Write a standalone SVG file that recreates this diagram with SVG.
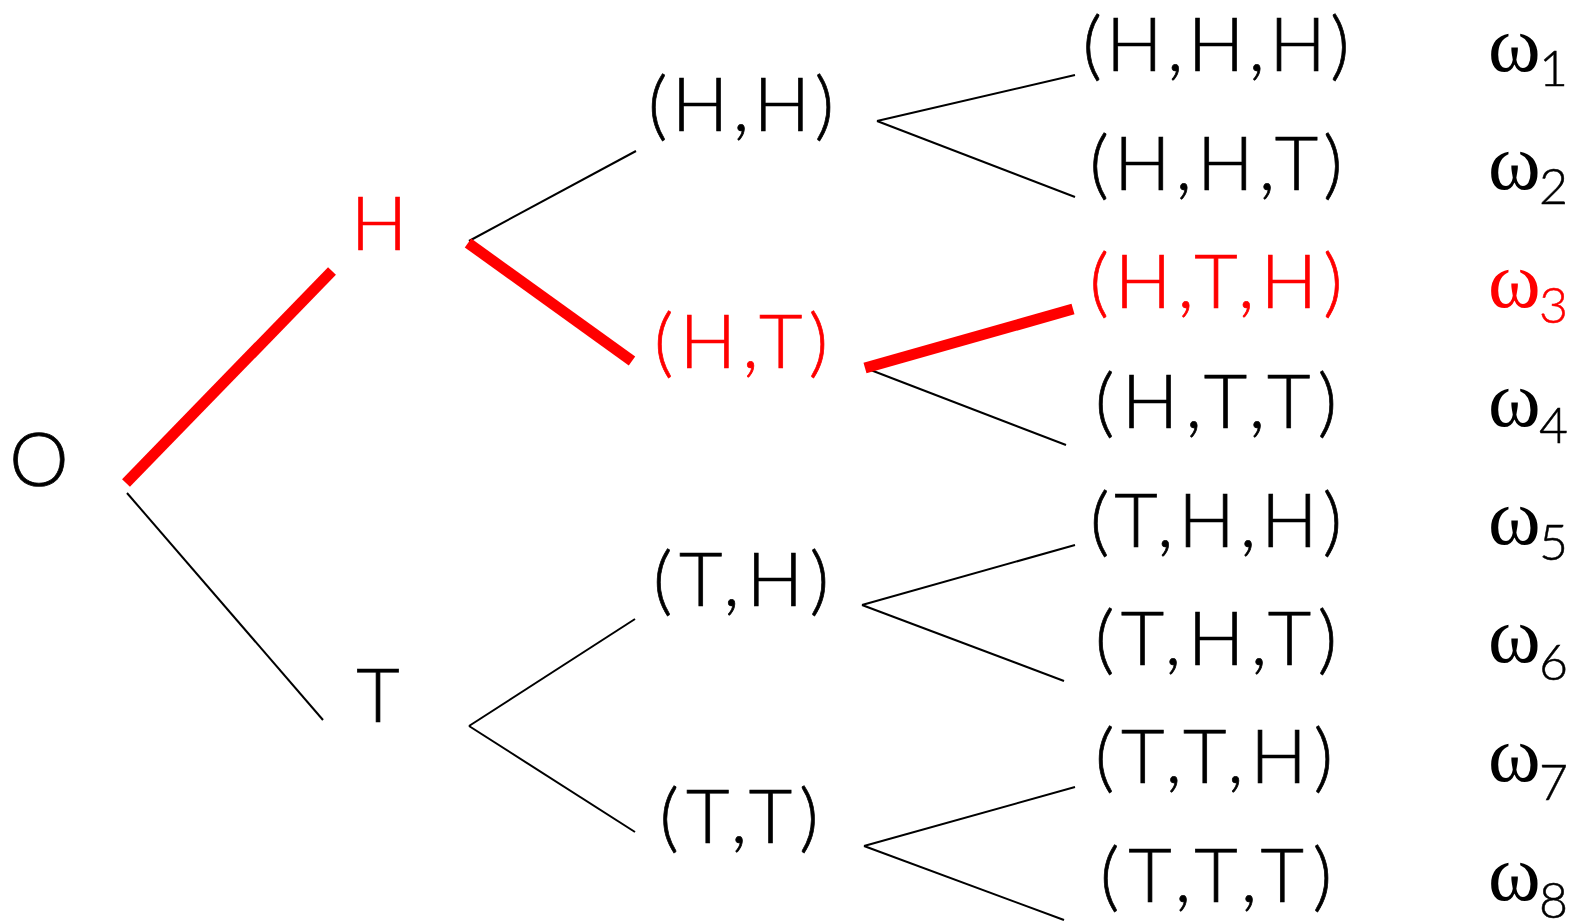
<svg xmlns="http://www.w3.org/2000/svg" width="1573" height="922" viewBox="0 0 1573 922">
<style>
.l{font-family:Lato,"Liberation Sans",sans-serif;font-weight:300;font-size:75px;fill:#000;stroke:#000;stroke-width:0.7}
.m{text-anchor:middle}
.r{fill:#f00;stroke:#f00}
.w{font-family:"Liberation Serif",serif;font-size:80px}
.w.r{stroke:none}
.s{font-family:Lato,"Liberation Sans",sans-serif;font-weight:300;font-size:50px;stroke:#000;stroke-width:0.5}
.s.r{stroke:#f00}
.e{stroke:#000;stroke-width:2;fill:none}
.h{stroke:#f00;stroke-width:11;fill:none}
</style>
<rect width="1573" height="922" fill="#fff"/>
<g id="connectors">
<line class="e" x1="127" y1="493" x2="323" y2="720"/>
<line class="e" x1="469" y1="241" x2="636" y2="151"/>
<line class="e" x1="877" y1="121" x2="1075" y2="75"/>
<line class="e" x1="877" y1="121" x2="1075" y2="197"/>
<line class="e" x1="868" y1="369" x2="1066" y2="445"/>
<line class="e" x1="469" y1="726" x2="635" y2="619"/>
<line class="e" x1="469" y1="726" x2="635" y2="832"/>
<line class="e" x1="862" y1="605" x2="1075" y2="545"/>
<line class="e" x1="862" y1="605" x2="1064" y2="681"/>
<line class="e" x1="864" y1="846" x2="1075" y2="787"/>
<line class="e" x1="864" y1="846" x2="1064" y2="920"/>
<line class="h" x1="126" y1="483" x2="332" y2="271"/>
<line class="h" x1="468" y1="243" x2="632" y2="361"/>
<line class="h" x1="865" y1="368" x2="1073" y2="309"/>
</g>
<g id="n-O"><text class="l m" x="39" y="486">O</text></g>
<g id="n-H"><text class="l m r" x="379" y="250">H</text></g>
<g id="n-T"><text class="l m" x="378" y="722">T</text></g>
<g id="n-HH"><text class="l m" x="741" y="131" textLength="186">(H,H)</text></g>
<g id="n-HT"><text class="l m r" x="741" y="368" textLength="174">(H,T)</text></g>
<g id="n-TH"><text class="l m" x="741" y="606" textLength="176">(T,H)</text></g>
<g id="n-TT"><text class="l m" x="739" y="843" textLength="159">(T,T)</text></g>
<g id="n-HHH"><text class="l m" x="1216" y="71" textLength="267">(H,H,H)</text><text class="w" x="1488" y="71">ω</text><text class="s" x="1539" y="86">1</text></g>
<g id="n-HHT"><text class="l m" x="1216" y="190" textLength="253">(H,H,T)</text><text class="w" x="1488" y="189">ω</text><text class="s" x="1539" y="204">2</text></g>
<g id="n-HTH"><text class="l m r" x="1216" y="308" textLength="253">(H,T,H)</text><text class="w r" x="1488" y="307">ω</text><text class="s r" x="1539" y="323">3</text></g>
<g id="n-HTT"><text class="l m" x="1216" y="428" textLength="242">(H,T,T)</text><text class="w" x="1488" y="426">ω</text><text class="s" x="1539" y="443">4</text></g>
<g id="n-THH"><text class="l m" x="1216" y="547" textLength="252">(T,H,H)</text><text class="w" x="1488" y="544">ω</text><text class="s" x="1539" y="560">5</text></g>
<g id="n-THT"><text class="l m" x="1216" y="665" textLength="242">(T,H,T)</text><text class="w" x="1488" y="662">ω</text><text class="s" x="1539" y="680">6</text></g>
<g id="n-TTH"><text class="l m" x="1214" y="783" textLength="238">(T,T,H)</text><text class="w" x="1488" y="781">ω</text><text class="s" x="1539" y="800">7</text></g>
<g id="n-TTT"><text class="l m" x="1216" y="902" textLength="232">(T,T,T)</text><text class="w" x="1488" y="900">ω</text><text class="s" x="1539" y="918">8</text></g>
</svg>
